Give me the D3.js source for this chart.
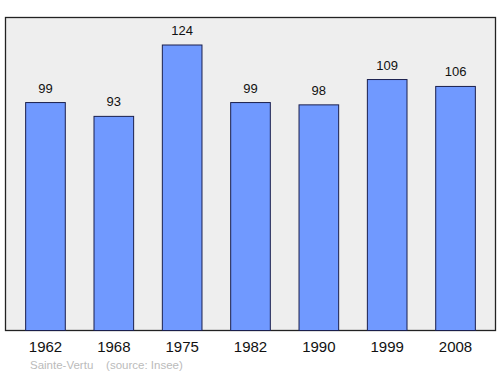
<!DOCTYPE html>
<html><head><meta charset="utf-8">
<script src="https://cdn.jsdelivr.net/npm/d3@7"></script>
<style>body{margin:0;background:#fff}svg{display:block}</style>
</head><body>
<script>
const years = ["1962","1968","1975","1982","1990","1999","2008"];
const population = [99,93,124,99,98,109,106];
const footer = "Sainte-Vertu    (source: Insee)";

const W=500,H=374;
const svg=d3.select("body").append("svg").attr("width",W).attr("height",H);
const pL=5.5,pR=495.5,pT=17.5,pB=330.5;
svg.append("rect").attr("x",pL).attr("y",pT).attr("width",pR-pL).attr("height",pB-pT)
  .attr("fill","#eeeeee").attr("stroke","#222").attr("stroke-width",1.3);
const x=d3.scaleBand().domain(years).range([11.3,489.7]).paddingInner(0.42).paddingOuter(0.21);
const y=d3.scaleLinear().domain([0,124]).range([pB,45]);
const g=svg.append("g");
g.selectAll("rect.bar").data(years).join("rect").attr("class","bar")
  .attr("x",d=>x(d)).attr("width",x.bandwidth())
  .attr("y",(d,i)=>y(population[i])).attr("height",(d,i)=>pB-y(population[i]))
  .attr("fill","#7099ff").attr("stroke","#1a1f4d").attr("stroke-width",1);
g.selectAll("text.val").data(years).join("text").attr("class","val")
  .attr("x",d=>x(d)+x.bandwidth()/2).attr("y",(d,i)=>y(population[i])-10)
  .attr("text-anchor","middle").attr("font-family","Liberation Sans, Arial, sans-serif")
  .attr("font-size",13).attr("fill","#111").text((d,i)=>population[i]);
const ax=svg.append("g").attr("transform",`translate(0,${pB})`)
  .call(d3.axisBottom(x).tickSize(0).tickPadding(11));
ax.select(".domain").remove();
ax.selectAll("text").attr("font-family","Liberation Sans, Arial, sans-serif").attr("font-size",15).attr("fill","#111");
svg.append("text").attr("x",30).attr("y",369).attr("font-family","Liberation Sans, Arial, sans-serif")
  .attr("font-size",11.5).attr("fill","#bbbbbb").attr("xml:space","preserve").style("white-space","pre").text(footer);
</script>
</body></html>
